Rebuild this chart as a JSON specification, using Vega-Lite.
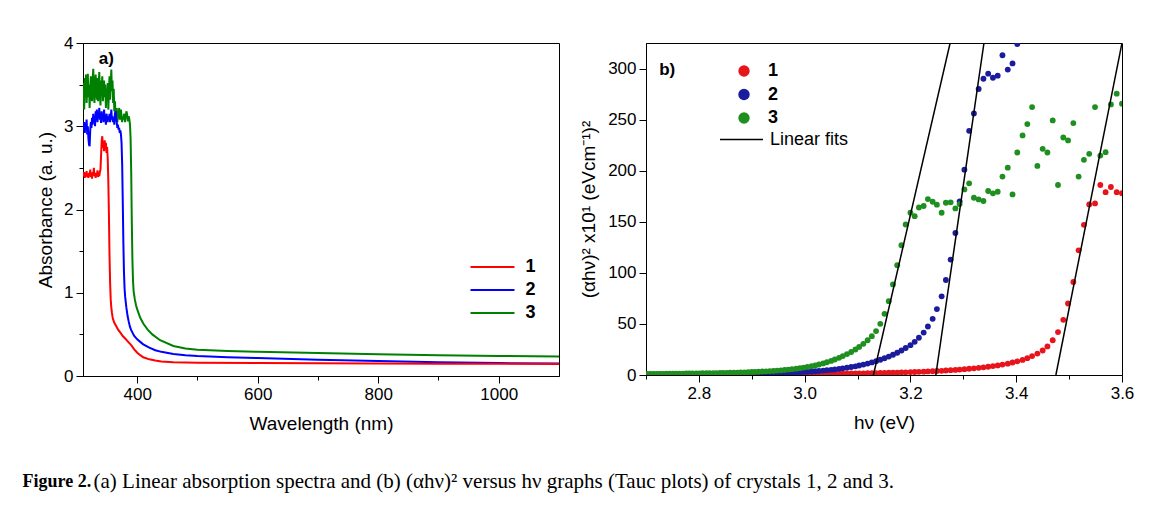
{
"$schema":"https://vega.github.io/schema/vega-lite/v6.json",
"padding":{"left":22,"top":33,"right":5,"bottom":5},
"background":"white",
"config":{
 "font":"Liberation Sans",
 "view":{"stroke":"#000","strokeWidth":1},
 "axis":{"grid":false,"domainColor":"#000","domainWidth":1,"tickColor":"#000","tickWidth":1,"labelColor":"#000","titleColor":"#000","labelFont":"Liberation Sans","titleFont":"Liberation Sans","labelFontSize":17,"titleFontSize":19,"titleFontWeight":"normal","labelPadding":3,"labelOverlap":false,"labelFlush":false},
 "legend":{"labelFont":"Liberation Sans","labelColor":"#000","padding":0}
},
"title":{"text":"Figure 2.","orient":"bottom","anchor":"start","frame":"bounds","font":"Liberation Serif","fontSize":18,"fontWeight":"bold","color":"#000","offset":0,"dy":-19,"dx":-13.5},
"datasets":{
"abs":[
{"w":310,"s":"3","a":3.30},{"w":311,"s":"3","a":3.52},{"w":312,"s":"3","a":3.20},{"w":313,"s":"3","a":3.58},{"w":314,"s":"3","a":3.40},{"w":315,"s":"3","a":3.62},{"w":316,"s":"3","a":3.28},{"w":317,"s":"3","a":3.45},{"w":318,"s":"3","a":3.63},{"w":319,"s":"3","a":3.35},{"w":320,"s":"3","a":3.50},{"w":321,"s":"3","a":3.22},{"w":322,"s":"3","a":3.45},{"w":323,"s":"3","a":3.60},{"w":324,"s":"3","a":3.38},{"w":325,"s":"3","a":3.30},{"w":326,"s":"3","a":3.55},{"w":327,"s":"3","a":3.69},{"w":328,"s":"3","a":3.40},{"w":329,"s":"3","a":3.28},{"w":330,"s":"3","a":3.50},{"w":331,"s":"3","a":3.62},{"w":332,"s":"3","a":3.42},{"w":333,"s":"3","a":3.32},{"w":334,"s":"3","a":3.58},{"w":335,"s":"3","a":3.30},{"w":336,"s":"3","a":3.50},{"w":337,"s":"3","a":3.65},{"w":338,"s":"3","a":3.40},{"w":339,"s":"3","a":3.25},{"w":340,"s":"3","a":3.55},{"w":341,"s":"3","a":3.45},{"w":342,"s":"3","a":3.60},{"w":343,"s":"3","a":3.30},{"w":344,"s":"3","a":3.42},{"w":345,"s":"3","a":3.55},{"w":346,"s":"3","a":3.35},{"w":347,"s":"3","a":3.50},{"w":348,"s":"3","a":3.22},{"w":349,"s":"3","a":3.45},{"w":350,"s":"3","a":3.30},{"w":351,"s":"3","a":3.52},{"w":352,"s":"3","a":3.20},{"w":353,"s":"3","a":3.40},{"w":354,"s":"3","a":3.60},{"w":355,"s":"3","a":3.32},{"w":356,"s":"3","a":3.50},{"w":357,"s":"3","a":3.68},{"w":358,"s":"3","a":3.42},{"w":359,"s":"3","a":3.55},{"w":360,"s":"3","a":3.28},{"w":361,"s":"3","a":3.45},{"w":362,"s":"3","a":3.18},{"w":363,"s":"3","a":3.30},{"w":364,"s":"3","a":3.15},{"w":365,"s":"3","a":3.10},{"w":366,"s":"3","a":3.22},{"w":367,"s":"3","a":3.05},{"w":368,"s":"3","a":3.18},{"w":369,"s":"3","a":3.10},{"w":370,"s":"3","a":3.22},{"w":371,"s":"3","a":3.08},{"w":372,"s":"3","a":3.12},{"w":373,"s":"3","a":3.20},{"w":374,"s":"3","a":3.10},{"w":375,"s":"3","a":3.05},{"w":376,"s":"3","a":3.12},{"w":377,"s":"3","a":3.08},{"w":378,"s":"3","a":3.15},{"w":379,"s":"3","a":3.10},{"w":380,"s":"3","a":3.05},{"w":381,"s":"3","a":3.12},{"w":382,"s":"3","a":3.18},{"w":383,"s":"3","a":3.15},{"w":384,"s":"3","a":3.10},{"w":385,"s":"3","a":3.06},{"w":386,"s":"3","a":3.12},{"w":387,"s":"3","a":3.08},{"w":388,"s":"3","a":3.02},{"w":389,"s":"3","a":2.85},{"w":390,"s":"3","a":2.45},{"w":391,"s":"3","a":1.85},{"w":392,"s":"3","a":1.40},{"w":393,"s":"3","a":1.15},{"w":394,"s":"3","a":1.02},{"w":396,"s":"3","a":0.92},{"w":398,"s":"3","a":0.85},{"w":400,"s":"3","a":0.80},{"w":405,"s":"3","a":0.70},{"w":410,"s":"3","a":0.63},{"w":417,"s":"3","a":0.56},{"w":425,"s":"3","a":0.50},{"w":438,"s":"3","a":0.43},{"w":460,"s":"3","a":0.36},{"w":480,"s":"3","a":0.33},{"w":500,"s":"3","a":0.315},{"w":550,"s":"3","a":0.30},{"w":600,"s":"3","a":0.29},{"w":700,"s":"3","a":0.275},{"w":800,"s":"3","a":0.26},{"w":900,"s":"3","a":0.25},{"w":1000,"s":"3","a":0.24},{"w":1100,"s":"3","a":0.235},
{"w":310,"s":"2","a":3.00},{"w":311,"s":"2","a":2.95},{"w":312,"s":"2","a":3.05},{"w":313,"s":"2","a":2.92},{"w":314,"s":"2","a":3.02},{"w":315,"s":"2","a":2.98},{"w":316,"s":"2","a":3.08},{"w":317,"s":"2","a":2.90},{"w":318,"s":"2","a":3.00},{"w":319,"s":"2","a":2.85},{"w":320,"s":"2","a":2.78},{"w":321,"s":"2","a":2.76},{"w":322,"s":"2","a":2.95},{"w":323,"s":"2","a":3.05},{"w":324,"s":"2","a":2.98},{"w":325,"s":"2","a":3.10},{"w":326,"s":"2","a":3.02},{"w":327,"s":"2","a":3.15},{"w":328,"s":"2","a":3.05},{"w":329,"s":"2","a":3.12},{"w":330,"s":"2","a":3.00},{"w":331,"s":"2","a":3.18},{"w":332,"s":"2","a":3.08},{"w":333,"s":"2","a":3.20},{"w":334,"s":"2","a":3.05},{"w":335,"s":"2","a":3.15},{"w":336,"s":"2","a":3.10},{"w":337,"s":"2","a":3.22},{"w":338,"s":"2","a":3.08},{"w":339,"s":"2","a":3.12},{"w":340,"s":"2","a":3.04},{"w":341,"s":"2","a":3.18},{"w":342,"s":"2","a":3.10},{"w":343,"s":"2","a":3.15},{"w":344,"s":"2","a":3.05},{"w":345,"s":"2","a":3.20},{"w":346,"s":"2","a":3.08},{"w":347,"s":"2","a":3.12},{"w":348,"s":"2","a":3.02},{"w":349,"s":"2","a":3.15},{"w":350,"s":"2","a":3.10},{"w":351,"s":"2","a":3.05},{"w":352,"s":"2","a":3.12},{"w":353,"s":"2","a":3.08},{"w":354,"s":"2","a":3.15},{"w":355,"s":"2","a":3.05},{"w":356,"s":"2","a":3.10},{"w":357,"s":"2","a":3.20},{"w":358,"s":"2","a":3.08},{"w":359,"s":"2","a":3.12},{"w":360,"s":"2","a":3.05},{"w":361,"s":"2","a":3.10},{"w":362,"s":"2","a":3.02},{"w":363,"s":"2","a":3.15},{"w":364,"s":"2","a":3.18},{"w":365,"s":"2","a":3.10},{"w":366,"s":"2","a":3.05},{"w":367,"s":"2","a":2.98},{"w":368,"s":"2","a":3.02},{"w":369,"s":"2","a":2.96},{"w":370,"s":"2","a":2.98},{"w":371,"s":"2","a":2.92},{"w":372,"s":"2","a":2.95},{"w":373,"s":"2","a":2.90},{"w":374,"s":"2","a":2.80},{"w":375,"s":"2","a":2.55},{"w":376,"s":"2","a":2.10},{"w":377,"s":"2","a":1.60},{"w":378,"s":"2","a":1.25},{"w":379,"s":"2","a":1.05},{"w":380,"s":"2","a":0.95},{"w":382,"s":"2","a":0.82},{"w":384,"s":"2","a":0.72},{"w":386,"s":"2","a":0.65},{"w":388,"s":"2","a":0.59},{"w":390,"s":"2","a":0.55},{"w":395,"s":"2","a":0.48},{"w":400,"s":"2","a":0.44},{"w":405,"s":"2","a":0.41},{"w":410,"s":"2","a":0.38},{"w":420,"s":"2","a":0.34},{"w":430,"s":"2","a":0.31},{"w":440,"s":"2","a":0.29},{"w":460,"s":"2","a":0.265},{"w":480,"s":"2","a":0.25},{"w":500,"s":"2","a":0.24},{"w":550,"s":"2","a":0.225},{"w":600,"s":"2","a":0.215},{"w":700,"s":"2","a":0.195},{"w":800,"s":"2","a":0.18},{"w":900,"s":"2","a":0.165},{"w":1000,"s":"2","a":0.155},{"w":1100,"s":"2","a":0.15},
{"w":310,"s":"1","a":2.42},{"w":311,"s":"1","a":2.40},{"w":312,"s":"1","a":2.45},{"w":313,"s":"1","a":2.38},{"w":314,"s":"1","a":2.43},{"w":315,"s":"1","a":2.40},{"w":316,"s":"1","a":2.46},{"w":317,"s":"1","a":2.39},{"w":318,"s":"1","a":2.42},{"w":319,"s":"1","a":2.38},{"w":320,"s":"1","a":2.44},{"w":321,"s":"1","a":2.40},{"w":322,"s":"1","a":2.48},{"w":323,"s":"1","a":2.39},{"w":324,"s":"1","a":2.42},{"w":325,"s":"1","a":2.37},{"w":326,"s":"1","a":2.45},{"w":327,"s":"1","a":2.41},{"w":328,"s":"1","a":2.50},{"w":329,"s":"1","a":2.40},{"w":330,"s":"1","a":2.43},{"w":331,"s":"1","a":2.38},{"w":332,"s":"1","a":2.44},{"w":333,"s":"1","a":2.40},{"w":334,"s":"1","a":2.47},{"w":335,"s":"1","a":2.39},{"w":336,"s":"1","a":2.42},{"w":337,"s":"1","a":2.40},{"w":338,"s":"1","a":2.45},{"w":339,"s":"1","a":2.48},{"w":340,"s":"1","a":2.65},{"w":341,"s":"1","a":2.82},{"w":342,"s":"1","a":2.88},{"w":343,"s":"1","a":2.74},{"w":344,"s":"1","a":2.80},{"w":345,"s":"1","a":2.70},{"w":346,"s":"1","a":2.83},{"w":347,"s":"1","a":2.72},{"w":348,"s":"1","a":2.80},{"w":349,"s":"1","a":2.68},{"w":350,"s":"1","a":2.75},{"w":351,"s":"1","a":2.62},{"w":352,"s":"1","a":2.35},{"w":353,"s":"1","a":1.95},{"w":354,"s":"1","a":1.45},{"w":355,"s":"1","a":1.12},{"w":356,"s":"1","a":0.92},{"w":357,"s":"1","a":0.82},{"w":358,"s":"1","a":0.76},{"w":359,"s":"1","a":0.71},{"w":360,"s":"1","a":0.68},{"w":362,"s":"1","a":0.64},{"w":365,"s":"1","a":0.60},{"w":368,"s":"1","a":0.56},{"w":372,"s":"1","a":0.52},{"w":376,"s":"1","a":0.48},{"w":380,"s":"1","a":0.45},{"w":385,"s":"1","a":0.41},{"w":390,"s":"1","a":0.37},{"w":395,"s":"1","a":0.32},{"w":400,"s":"1","a":0.28},{"w":405,"s":"1","a":0.25},{"w":410,"s":"1","a":0.225},{"w":420,"s":"1","a":0.20},{"w":430,"s":"1","a":0.185},{"w":440,"s":"1","a":0.175},{"w":460,"s":"1","a":0.165},{"w":500,"s":"1","a":0.158},{"w":600,"s":"1","a":0.155},{"w":700,"s":"1","a":0.152},{"w":800,"s":"1","a":0.15},{"w":900,"s":"1","a":0.148},{"w":1000,"s":"1","a":0.146},{"w":1100,"s":"1","a":0.145}
],
"tauc":[
{"e":3.600,"s":"1","v":178},{"e":3.590,"s":"1","v":179},{"e":3.579,"s":"1","v":184},{"e":3.569,"s":"1","v":179},{"e":3.559,"s":"1","v":186},{"e":3.549,"s":"1","v":168},{"e":3.538,"s":"1","v":167},{"e":3.528,"s":"1","v":147},{"e":3.518,"s":"1","v":122},{"e":3.508,"s":"1","v":91},
{"e":3.498,"s":"1","v":70},{"e":3.489,"s":"1","v":54},{"e":3.479,"s":"1","v":42},{"e":3.469,"s":"1","v":34},{"e":3.459,"s":"1","v":28},{"e":3.450,"s":"1","v":24},{"e":3.440,"s":"1","v":21},{"e":3.430,"s":"1","v":18.5},{"e":3.421,"s":"1","v":16.5},{"e":3.412,"s":"1","v":14.8},
{"e":3.402,"s":"1","v":13.4},{"e":3.393,"s":"1","v":12.2},{"e":3.384,"s":"1","v":11.1},{"e":3.374,"s":"1","v":10.2},{"e":3.365,"s":"1","v":9.4},{"e":3.356,"s":"1","v":8.7},{"e":3.347,"s":"1","v":8.1},{"e":3.338,"s":"1","v":7.5},{"e":3.329,"s":"1","v":7.0},{"e":3.320,"s":"1","v":6.5},
{"e":3.311,"s":"1","v":6.1},{"e":3.302,"s":"1","v":5.7},{"e":3.293,"s":"1","v":5.3},{"e":3.285,"s":"1","v":5.0},{"e":3.276,"s":"1","v":4.7},{"e":3.267,"s":"1","v":4.4},{"e":3.259,"s":"1","v":4.1},{"e":3.250,"s":"1","v":3.9},{"e":3.242,"s":"1","v":3.7},{"e":3.233,"s":"1","v":3.5},
{"e":3.225,"s":"1","v":3.3},{"e":3.216,"s":"1","v":3.1},{"e":3.208,"s":"1","v":2.9},{"e":3.200,"s":"1","v":2.8},{"e":3.191,"s":"1","v":2.6},{"e":3.183,"s":"1","v":2.5},{"e":3.175,"s":"1","v":2.4},{"e":3.167,"s":"1","v":2.3},{"e":3.159,"s":"1","v":2.2},{"e":3.151,"s":"1","v":2.1},
{"e":3.143,"s":"1","v":2.0},{"e":3.135,"s":"1","v":1.9},{"e":3.127,"s":"1","v":1.8},{"e":3.119,"s":"1","v":1.7},{"e":3.111,"s":"1","v":1.65},{"e":3.103,"s":"1","v":1.6},{"e":3.096,"s":"1","v":1.5},{"e":3.088,"s":"1","v":1.45},{"e":3.080,"s":"1","v":1.4},{"e":3.072,"s":"1","v":1.35},
{"e":3.065,"s":"1","v":1.3},{"e":3.057,"s":"1","v":1.25},{"e":3.050,"s":"1","v":1.2},{"e":3.042,"s":"1","v":1.15},{"e":3.035,"s":"1","v":1.1},{"e":3.027,"s":"1","v":1.05},{"e":3.020,"s":"1","v":1.0},{"e":3.013,"s":"1","v":0.98},{"e":3.005,"s":"1","v":0.95},{"e":2.998,"s":"1","v":0.92},
{"e":2.991,"s":"1","v":0.9},{"e":2.984,"s":"1","v":0.88},{"e":2.976,"s":"1","v":0.85},{"e":2.969,"s":"1","v":0.83},{"e":2.962,"s":"1","v":0.8},{"e":2.955,"s":"1","v":0.78},{"e":2.948,"s":"1","v":0.76},{"e":2.941,"s":"1","v":0.74},{"e":2.934,"s":"1","v":0.72},{"e":2.927,"s":"1","v":0.7},
{"e":2.920,"s":"1","v":0.68},{"e":2.913,"s":"1","v":0.66},{"e":2.906,"s":"1","v":0.64},{"e":2.900,"s":"1","v":0.62},{"e":2.893,"s":"1","v":0.6},{"e":2.886,"s":"1","v":0.59},{"e":2.879,"s":"1","v":0.58},{"e":2.873,"s":"1","v":0.56},{"e":2.866,"s":"1","v":0.55},{"e":2.859,"s":"1","v":0.54},
{"e":2.853,"s":"1","v":0.52},{"e":2.846,"s":"1","v":0.51},{"e":2.840,"s":"1","v":0.5},{"e":2.833,"s":"1","v":0.49},{"e":2.827,"s":"1","v":0.48},{"e":2.820,"s":"1","v":0.47},{"e":2.814,"s":"1","v":0.46},{"e":2.807,"s":"1","v":0.45},{"e":2.801,"s":"1","v":0.44},{"e":2.795,"s":"1","v":0.43},
{"e":2.788,"s":"1","v":0.42},{"e":2.782,"s":"1","v":0.41},{"e":2.776,"s":"1","v":0.4},{"e":2.770,"s":"1","v":0.39},{"e":2.763,"s":"1","v":0.38},{"e":2.757,"s":"1","v":0.37},{"e":2.751,"s":"1","v":0.36},{"e":2.745,"s":"1","v":0.35},{"e":2.739,"s":"1","v":0.34},{"e":2.733,"s":"1","v":0.33},
{"e":2.727,"s":"1","v":0.32},{"e":2.721,"s":"1","v":0.31},{"e":2.715,"s":"1","v":0.3},{"e":2.709,"s":"1","v":0.3},{"e":2.703,"s":"1","v":0.29},{"e":2.697,"s":"1","v":0.28},
{"e":3.402,"s":"2","v":324},{"e":3.393,"s":"2","v":305},{"e":3.384,"s":"2","v":299},{"e":3.374,"s":"2","v":313},{"e":3.365,"s":"2","v":293},{"e":3.356,"s":"2","v":291},{"e":3.347,"s":"2","v":295},{"e":3.338,"s":"2","v":290},{"e":3.329,"s":"2","v":280},{"e":3.320,"s":"2","v":256},
{"e":3.311,"s":"2","v":239},{"e":3.302,"s":"2","v":201},{"e":3.293,"s":"2","v":170},{"e":3.285,"s":"2","v":139},{"e":3.276,"s":"2","v":113},{"e":3.267,"s":"2","v":93},{"e":3.259,"s":"2","v":77},{"e":3.250,"s":"2","v":64.5},{"e":3.242,"s":"2","v":55},{"e":3.233,"s":"2","v":47.5},
{"e":3.225,"s":"2","v":41.5},{"e":3.216,"s":"2","v":36.5},{"e":3.208,"s":"2","v":32.5},{"e":3.200,"s":"2","v":29.2},{"e":3.191,"s":"2","v":26.4},{"e":3.183,"s":"2","v":24},{"e":3.175,"s":"2","v":21.8},{"e":3.167,"s":"2","v":19.8},{"e":3.159,"s":"2","v":18},{"e":3.151,"s":"2","v":16.4},
{"e":3.143,"s":"2","v":14.9},{"e":3.135,"s":"2","v":13.5},{"e":3.127,"s":"2","v":12.3},{"e":3.119,"s":"2","v":11.2},{"e":3.111,"s":"2","v":10.2},{"e":3.103,"s":"2","v":9.3},{"e":3.096,"s":"2","v":8.5},{"e":3.088,"s":"2","v":7.8},{"e":3.080,"s":"2","v":7.1},{"e":3.072,"s":"2","v":6.5},
{"e":3.065,"s":"2","v":6.0},{"e":3.057,"s":"2","v":5.5},{"e":3.050,"s":"2","v":5.1},{"e":3.042,"s":"2","v":4.7},{"e":3.035,"s":"2","v":4.3},{"e":3.027,"s":"2","v":4.0},{"e":3.020,"s":"2","v":3.7},{"e":3.013,"s":"2","v":3.4},{"e":3.005,"s":"2","v":3.2},{"e":2.998,"s":"2","v":3.0},
{"e":2.991,"s":"2","v":2.8},{"e":2.984,"s":"2","v":2.6},{"e":2.976,"s":"2","v":2.45},{"e":2.969,"s":"2","v":2.3},{"e":2.962,"s":"2","v":2.15},{"e":2.955,"s":"2","v":2.0},{"e":2.948,"s":"2","v":1.9},{"e":2.941,"s":"2","v":1.8},{"e":2.934,"s":"2","v":1.7},{"e":2.927,"s":"2","v":1.6},
{"e":2.920,"s":"2","v":1.5},{"e":2.913,"s":"2","v":1.42},{"e":2.906,"s":"2","v":1.35},{"e":2.900,"s":"2","v":1.28},{"e":2.893,"s":"2","v":1.22},{"e":2.886,"s":"2","v":1.16},{"e":2.879,"s":"2","v":1.1},{"e":2.873,"s":"2","v":1.05},{"e":2.866,"s":"2","v":1.0},{"e":2.859,"s":"2","v":0.96},
{"e":2.853,"s":"2","v":0.92},{"e":2.846,"s":"2","v":0.88},{"e":2.840,"s":"2","v":0.84},{"e":2.833,"s":"2","v":0.8},{"e":2.827,"s":"2","v":0.77},{"e":2.820,"s":"2","v":0.74},{"e":2.814,"s":"2","v":0.71},{"e":2.807,"s":"2","v":0.68},{"e":2.801,"s":"2","v":0.66},{"e":2.795,"s":"2","v":0.64},
{"e":2.788,"s":"2","v":0.62},{"e":2.782,"s":"2","v":0.6},{"e":2.776,"s":"2","v":0.58},{"e":2.770,"s":"2","v":0.56},{"e":2.763,"s":"2","v":0.54},{"e":2.757,"s":"2","v":0.52},{"e":2.751,"s":"2","v":0.5},{"e":2.745,"s":"2","v":0.49},{"e":2.739,"s":"2","v":0.48},{"e":2.733,"s":"2","v":0.47},
{"e":2.727,"s":"2","v":0.46},{"e":2.721,"s":"2","v":0.45},{"e":2.715,"s":"2","v":0.44},{"e":2.709,"s":"2","v":0.43},{"e":2.703,"s":"2","v":0.42},{"e":2.697,"s":"2","v":0.41},
{"e":3.600,"s":"3","v":265.6},{"e":3.590,"s":"3","v":275.4},{"e":3.579,"s":"3","v":264.9},{"e":3.569,"s":"3","v":218.1},{"e":3.559,"s":"3","v":214.8},{"e":3.549,"s":"3","v":262.3},{"e":3.538,"s":"3","v":216.5},{"e":3.528,"s":"3","v":210.6},{"e":3.518,"s":"3","v":194.2},{"e":3.508,"s":"3","v":246.6},
{"e":3.498,"s":"3","v":229.6},{"e":3.489,"s":"3","v":232.5},{"e":3.479,"s":"3","v":186},{"e":3.469,"s":"3","v":249.2},{"e":3.459,"s":"3","v":217.8},{"e":3.450,"s":"3","v":221.4},{"e":3.440,"s":"3","v":204.7},{"e":3.430,"s":"3","v":262.3},{"e":3.421,"s":"3","v":245.6},{"e":3.412,"s":"3","v":234.5},
{"e":3.402,"s":"3","v":217.8},{"e":3.393,"s":"3","v":176.8},{"e":3.384,"s":"3","v":203},{"e":3.374,"s":"3","v":194.2},{"e":3.365,"s":"3","v":179.4},{"e":3.356,"s":"3","v":177.8},{"e":3.347,"s":"3","v":180.1},{"e":3.338,"s":"3","v":170.3},{"e":3.329,"s":"3","v":171.9},{"e":3.320,"s":"3","v":173.5},
{"e":3.311,"s":"3","v":187.6},{"e":3.302,"s":"3","v":181.7},{"e":3.293,"s":"3","v":167.3},{"e":3.285,"s":"3","v":163.1},{"e":3.276,"s":"3","v":169},{"e":3.267,"s":"3","v":168.6},{"e":3.259,"s":"3","v":158.8},{"e":3.250,"s":"3","v":166.7},{"e":3.242,"s":"3","v":169.6},{"e":3.233,"s":"3","v":172.2},
{"e":3.225,"s":"3","v":165.4},{"e":3.216,"s":"3","v":164},{"e":3.208,"s":"3","v":155.5},{"e":3.200,"s":"3","v":158.8},{"e":3.191,"s":"3","v":147.3},{"e":3.183,"s":"3","v":127},{"e":3.175,"s":"3","v":107.4},{"e":3.167,"s":"3","v":88.7},{"e":3.159,"s":"3","v":72.3},{"e":3.151,"s":"3","v":59.9},
{"e":3.143,"s":"3","v":50.1},{"e":3.135,"s":"3","v":43},{"e":3.127,"s":"3","v":38},{"e":3.119,"s":"3","v":34},{"e":3.111,"s":"3","v":30.5},{"e":3.103,"s":"3","v":27.5},{"e":3.096,"s":"3","v":25},{"e":3.088,"s":"3","v":22.5},{"e":3.080,"s":"3","v":20.5},{"e":3.072,"s":"3","v":18.5},
{"e":3.065,"s":"3","v":16.8},{"e":3.057,"s":"3","v":15.2},{"e":3.050,"s":"3","v":13.8},{"e":3.042,"s":"3","v":12.5},{"e":3.035,"s":"3","v":11.3},{"e":3.027,"s":"3","v":10.3},{"e":3.020,"s":"3","v":9.4},{"e":3.013,"s":"3","v":8.6},{"e":3.005,"s":"3","v":7.9},{"e":2.998,"s":"3","v":7.3},
{"e":2.991,"s":"3","v":6.7},{"e":2.984,"s":"3","v":6.2},{"e":2.976,"s":"3","v":5.7},{"e":2.969,"s":"3","v":5.3},{"e":2.962,"s":"3","v":4.9},{"e":2.955,"s":"3","v":4.6},{"e":2.948,"s":"3","v":4.3},{"e":2.941,"s":"3","v":4.0},{"e":2.934,"s":"3","v":3.8},{"e":2.927,"s":"3","v":3.6},
{"e":2.920,"s":"3","v":3.4},{"e":2.913,"s":"3","v":3.2},{"e":2.906,"s":"3","v":3.05},{"e":2.900,"s":"3","v":2.9},{"e":2.893,"s":"3","v":2.75},{"e":2.886,"s":"3","v":2.6},{"e":2.879,"s":"3","v":2.5},{"e":2.873,"s":"3","v":2.4},{"e":2.866,"s":"3","v":2.3},{"e":2.859,"s":"3","v":2.2},
{"e":2.853,"s":"3","v":2.1},{"e":2.846,"s":"3","v":2.0},{"e":2.840,"s":"3","v":1.95},{"e":2.833,"s":"3","v":1.9},{"e":2.827,"s":"3","v":1.85},{"e":2.820,"s":"3","v":1.8},{"e":2.814,"s":"3","v":1.75},{"e":2.807,"s":"3","v":1.7},{"e":2.801,"s":"3","v":1.65},{"e":2.795,"s":"3","v":1.6},
{"e":2.788,"s":"3","v":1.55},{"e":2.782,"s":"3","v":1.5},{"e":2.776,"s":"3","v":1.45},{"e":2.770,"s":"3","v":1.4},{"e":2.763,"s":"3","v":1.36},{"e":2.757,"s":"3","v":1.32},{"e":2.751,"s":"3","v":1.28},{"e":2.745,"s":"3","v":1.24},{"e":2.739,"s":"3","v":1.2},{"e":2.733,"s":"3","v":1.17},
{"e":2.727,"s":"3","v":1.14},{"e":2.721,"s":"3","v":1.11},{"e":2.715,"s":"3","v":1.08},{"e":2.709,"s":"3","v":1.05},{"e":2.703,"s":"3","v":1.02},{"e":2.697,"s":"3","v":1.0}
],
"fits":[
{"e":3.130,"v":0,"f":"3","k":"Linear fits"},{"e":3.275,"v":325,"f":"3","k":"Linear fits"},
{"e":3.248,"v":0,"f":"2","k":"Linear fits"},{"e":3.339,"v":325,"f":"2","k":"Linear fits"},
{"e":3.475,"v":0,"f":"1","k":"Linear fits"},{"e":3.600,"v":325,"f":"1","k":"Linear fits"}
]
},
"vconcat":[{
"title":{"text":"(a) Linear absorption spectra and (b) (αhν)² versus hν graphs (Tauc plots) of crystals 1, 2 and 3.","orient":"bottom","anchor":"start","frame":"bounds","font":"Liberation Serif","fontSize":21,"fontWeight":"normal","color":"#000","offset":37,"dx":57.5},
"spacing":19,
"resolve":{"scale":{"color":"independent","fill":"independent","stroke":"independent"},"legend":{"color":"independent","fill":"independent","stroke":"independent"}},
"hconcat":[
{
"width":476,"height":333,
"layer":[
{"data":{"name":"abs"},
 "mark":{"type":"line","strokeWidth":2,"clip":true},
 "encoding":{
  "x":{"field":"w","type":"quantitative","title":"Wavelength (nm)","scale":{"domain":[310,1100],"nice":false,"zero":false},
   "axis":{"values":[400,500,600,700,800,900,1000],"labelExpr":"datum.value % 200 == 0 ? format(datum.value,'d') : ''","tickSize":{"condition":{"test":"datum.value % 200 != 0","value":4},"value":7},"titlePadding":12}},
  "y":{"field":"a","type":"quantitative","title":"Absorbance (a. u.)","scale":{"domain":[0,4],"nice":false},
   "axis":{"values":[0,0.5,1,1.5,2,2.5,3,3.5,4],"labelExpr":"datum.value % 1 == 0 ? format(datum.value,'d') : ''","tickSize":{"condition":{"test":"datum.value % 1 != 0","value":4},"value":7},"titlePadding":8}},
  "color":{"field":"s","type":"nominal","scale":{"domain":["1","2","3"],"range":["#ff0000","#0000ff","#008000"]},
   "legend":{"orient":"none","legendX":400.5,"legendY":215,"title":null,"symbolType":"M-4,0H4","symbolSize":121,"symbolStrokeWidth":2,"labelFontSize":18,"labelFontWeight":"bold","labelOffset":24,"rowPadding":5}}
 }},
{"data":{"values":[{"w":348.6,"a":3.81,"t":"a)"}]},
 "mark":{"type":"text","fontWeight":"bold","fontSize":17,"font":"Liberation Sans","color":"#000"},
 "encoding":{"x":{"field":"w","type":"quantitative"},"y":{"field":"a","type":"quantitative"},"text":{"field":"t"}}}
]
},
{
"width":476,"height":332,
"layer":[
{"data":{"name":"tauc"},
 "mark":{"type":"circle","size":34,"opacity":1,"clip":true},
 "encoding":{
  "x":{"field":"e","type":"quantitative","title":"hν (eV)","scale":{"domain":[2.7,3.6],"nice":false,"zero":false},
   "axis":{"values":[2.7,2.8,2.9,3.0,3.1,3.2,3.3,3.4,3.5,3.6],"labelExpr":"round(datum.value*10) % 2 == 0 ? format(datum.value,'.1f') : ''","tickSize":{"condition":{"test":"round(datum.value*10) % 2 != 0","value":4},"value":7},"titlePadding":12}},
  "y":{"field":"v","type":"quantitative","title":"(αhν)² x10¹ (eVcm⁻¹)²","scale":{"domain":[0,325],"nice":false},
   "axis":{"values":[0,25,50,75,100,125,150,175,200,225,250,275,300,325],"labelExpr":"datum.value % 50 == 0 ? format(datum.value,'d') : ''","tickSize":{"condition":{"test":"datum.value % 50 != 0","value":4},"value":7},"titlePadding":9}},
  "fill":{"field":"s","type":"nominal","scale":{"domain":["1","2","3"],"range":["#e8141c","#1b1b9e","#1f8f1f"]},
   "legend":{"orient":"none","legendX":89,"legendY":19,"title":null,"symbolType":"circle","symbolSize":130,"symbolStrokeWidth":0,"labelFontSize":18,"labelFontWeight":"bold","labelOffset":15,"rowPadding":5.5}}
 }},
{"data":{"name":"fits"},
 "mark":{"type":"line","strokeWidth":1.5,"clip":true},
 "encoding":{
  "x":{"field":"e","type":"quantitative"},
  "y":{"field":"v","type":"quantitative"},
  "detail":{"field":"f","type":"nominal"},
  "stroke":{"field":"k","type":"nominal","scale":{"range":["#000000"]},
   "legend":{"orient":"none","legendX":73,"legendY":74,"title":null,"symbolType":"stroke","symbolSize":1849,"symbolStrokeWidth":1.5,"labelFontSize":18,"labelOffset":6}}
 }},
{"data":{"values":[{"e":2.74,"v":299,"t":"b)"}]},
 "mark":{"type":"text","fontWeight":"bold","fontSize":17,"font":"Liberation Sans","color":"#000"},
 "encoding":{"x":{"field":"e","type":"quantitative"},"y":{"field":"v","type":"quantitative"},"text":{"field":"t"}}}
]
}
]
}]
}
